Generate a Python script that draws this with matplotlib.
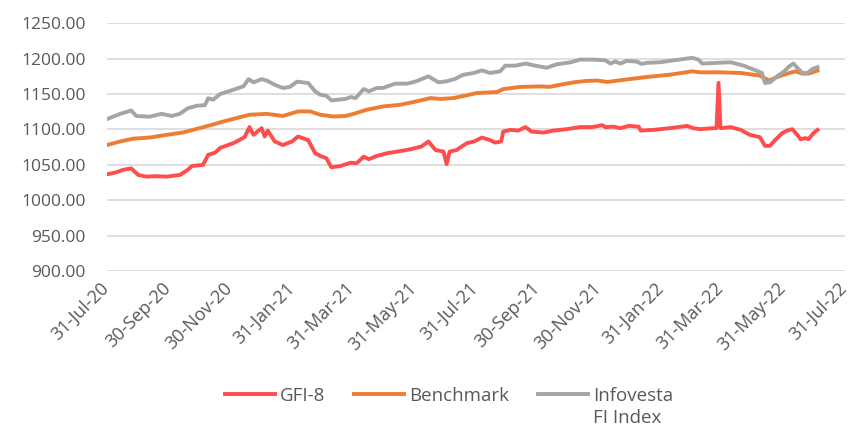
import numpy as np
import pandas as pd
import matplotlib
matplotlib.use("Agg")
import matplotlib.pyplot as plt
import matplotlib.dates as mdates
from matplotlib.transforms import ScaledTranslation

start = pd.Timestamp("2020-07-31")

# days since 31-Jul-20 and index levels
gfi_days = [0, 8, 16, 24, 31, 39, 49, 59, 72, 80, 84, 95, 100, 107, 112, 125, 136, 141, 145,
            153, 156, 159, 166, 174, 183, 189, 199, 206, 211, 217, 222, 231, 241, 247, 254,
            259, 267, 277, 287, 300, 311, 318, 325, 333, 336, 339, 346, 349, 356, 363, 371,
            379, 384, 390, 392, 399, 407, 414, 420, 432, 442, 455, 468, 480, 490, 493, 501,
            508, 516, 526, 528, 541, 557, 574, 580, 587, 600, 603, 605, 607, 617, 627, 636,
            646, 651, 656, 661, 668, 673, 678, 683, 686, 691, 694, 699, 703]
gfi_vals = [1036.7, 1039, 1043, 1045, 1035.7, 1033.4, 1034, 1033.4, 1035.7, 1043, 1048.4,
            1050, 1064, 1067.3, 1074, 1080.6, 1089, 1103.3, 1092.4, 1101.8, 1090, 1098.4,
            1083, 1078, 1083, 1090, 1085, 1066.4, 1062.6, 1059.4, 1046.6, 1048.4, 1053,
            1052.3, 1061.6, 1058, 1062.6, 1066.4, 1068.7, 1072, 1075.8, 1083, 1071, 1068.7,
            1051, 1068.7, 1071, 1074, 1080.6, 1083, 1088.5, 1085, 1081.4, 1083, 1097, 1099.4,
            1098.4, 1103.3, 1097, 1095.6, 1098.4, 1100.4, 1103.3, 1103.3, 1106, 1103.3, 1104,
            1101.8, 1105, 1104, 1098.4, 1099.4, 1101.8, 1105, 1101.8, 1100.4, 1101.8, 1101.8,
            1165.6, 1101.8, 1103.3, 1099.4, 1092.4, 1089, 1076.8, 1076.8, 1085, 1094.7,
            1098.4, 1100.4, 1092.4, 1086.3, 1087.7, 1086.3, 1094.7, 1099.4]

bench_days = [0, 13, 26, 42, 59, 75, 92, 105, 112, 128, 141, 158, 174, 189, 201, 211, 224,
              236, 244, 257, 273, 290, 306, 320, 330, 343, 352, 366, 386, 392, 409, 429, 438,
              448, 462, 474, 485, 495, 511, 534, 557, 579, 587, 607, 627, 646, 655, 663, 673,
              681, 688, 694, 703]
bench_vals = [1078, 1083, 1087, 1088.5, 1092.4, 1095.6, 1102, 1107, 1110, 1116, 1120.7, 1122,
              1119, 1125.4, 1125.4, 1120.7, 1118.3, 1119, 1122, 1127.8, 1132.4, 1134.8, 1139.5,
              1144.3, 1143, 1144.3, 1147, 1151.4, 1152.8, 1157, 1160, 1160.8, 1160, 1163,
              1166.5, 1168.5, 1169, 1167, 1170, 1174, 1177.3, 1182, 1180.6, 1180.6, 1179.7,
              1176, 1169, 1174, 1178.8, 1182, 1178.8, 1178.8, 1183]

info_days = [0, 13, 24, 29, 42, 54, 64, 72, 80, 89, 97, 100, 105, 112, 125, 135, 140, 145,
             153, 158, 166, 174, 181, 188, 199, 206, 211, 217, 222, 236, 241, 246, 254, 259,
             267, 273, 285, 297, 306, 318, 328, 336, 344, 352, 363, 371, 379, 389, 394, 404,
             414, 424, 435, 445, 459, 468, 481, 493, 498, 503, 508, 514, 524, 529, 534, 547,
             561, 579, 585, 589, 604, 617, 630, 640, 648, 651, 656, 663, 670, 675, 679, 683,
             688, 693, 698, 703]
info_vals = [1114.6, 1122, 1126.8, 1119, 1118, 1122, 1119, 1122, 1130, 1133.4, 1134.4, 1144,
             1142, 1150, 1156, 1160.8, 1171, 1166.5, 1171, 1169, 1163, 1158.5, 1160, 1167.4,
             1165.5, 1153.7, 1149, 1147.6, 1141, 1143, 1145.7, 1144.3, 1157, 1153.7, 1158.5,
             1158.5, 1164.6, 1164.6, 1168, 1175, 1166.5, 1168, 1171, 1177, 1179.7, 1183.4,
             1179.7, 1182, 1190, 1190, 1193, 1190, 1187, 1192, 1194.8, 1198.6, 1198.6, 1197.6,
             1193, 1195.8, 1193, 1196.7, 1195.8, 1192.5, 1194, 1194.8, 1197.6, 1201, 1198.6,
             1193, 1194, 1194.8, 1190, 1184.4, 1179.7, 1165.6, 1166.5, 1175, 1182, 1189, 1193,
             1187, 1179.7, 1179.7, 1185.4, 1188]

series = [("GFI-8", gfi_days, gfi_vals, "#FF4D4D"),
          ("Benchmark", bench_days, bench_vals, "#ED7D31"),
          ("Infovesta", info_days, info_vals, "#A5A5A5")]
label_extra = "FI Index"

plt.rcParams['font.family'] = ['Open Sans', 'DejaVu Sans']
grey_txt = '#595959'

fig = plt.figure(figsize=(8.52, 4.29), dpi=100)
ax = fig.add_axes([0.1256, 0.368, 0.866, 0.578])

for name, d, v, c in series:
    dates = start + pd.to_timedelta(d, unit="D")
    ax.plot(dates, v, color=c, lw=2.8, label=name, solid_joinstyle='round')

ax.set_ylim(900, 1250)
ax.set_yticks(np.arange(900, 1251, 50))
ax.yaxis.set_major_formatter(matplotlib.ticker.FormatStrFormatter('%.2f'))
ticks = pd.date_range("2020-07-31", "2022-07-31", freq="2ME")
ax.set_xticks(ticks)
ax.set_xlim(ticks[0], ticks[-1])
ax.xaxis.set_major_formatter(mdates.DateFormatter('%d-%b-%y'))
ax.grid(axis='y', color='#D9D9D9', lw=1.2)
ax.set_axisbelow(True)
for s in ax.spines.values():
    s.set_visible(False)
ax.tick_params(length=0, colors=grey_txt)
ax.tick_params(axis='y', pad=15.5, labelsize=12.5)
ax.tick_params(axis='x', pad=6, labelsize=13)
shift = ScaledTranslation(-7 / 100, 0, fig.dpi_scale_trans)
for lab in ax.get_xticklabels():
    lab.set_rotation(45)
    lab.set_ha('right')
    lab.set_rotation_mode('anchor')
    lab.set_transform(lab.get_transform() + shift)

leg = fig.legend(loc='center', bbox_to_anchor=(0.527, 1 - 396 / 429), ncol=3, frameon=False,
                 handlelength=2.67, columnspacing=1.5, handletextpad=0.3, fontsize=13.5)
for t in leg.get_texts():
    t.set_color(grey_txt)

fig.canvas.draw()
bb = leg.get_texts()[2].get_window_extent()
fig.text(bb.x0 / fig.bbox.width, (bb.y0 - 22) / fig.bbox.height, label_extra,
         fontsize=13.5, color=grey_txt, ha='left', va='bottom')

fig.savefig("out.png", dpi=100)
